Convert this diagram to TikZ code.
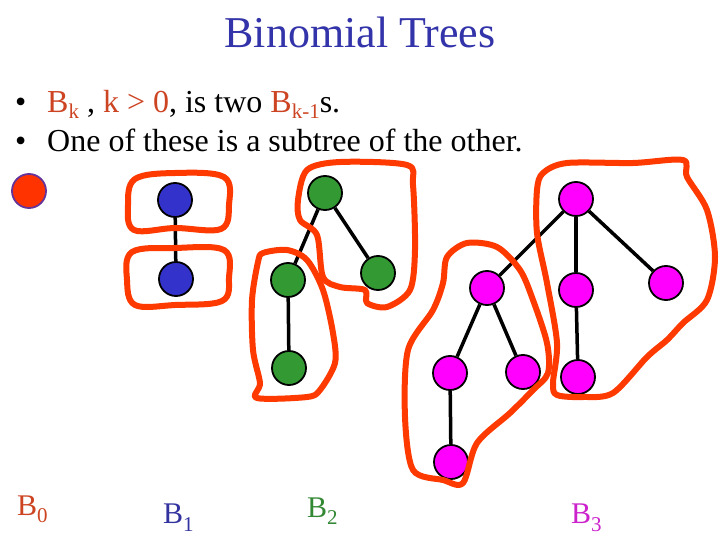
\documentclass[tikz,border=0pt]{standalone}
\usepackage{fontspec}
\setmainfont{Liberation Serif}
\definecolor{titleblue}{RGB}{51,51,170}
\definecolor{txtred}{RGB}{205,68,34}
\definecolor{lblblue}{RGB}{51,51,160}
\definecolor{lblgreen}{RGB}{51,136,51}
\definecolor{lblmag}{RGB}{204,34,204}
\definecolor{nred}{RGB}{255,51,0}
\definecolor{npurple}{RGB}{102,51,153}
\definecolor{nblue}{RGB}{51,51,204}
\definecolor{ngreen}{RGB}{51,153,51}
\definecolor{nmag}{RGB}{255,0,255}
\definecolor{loopred}{RGB}{255,58,0}
\newcommand\mysub[2]{\raisebox{-#1pt}{\fontsize{21}{21}\selectfont #2}}
\begin{document}
\begin{tikzpicture}[x=1pt,y=-1pt,
  vtx/.style={circle,draw=black,line width=1.8pt,minimum size=34pt,inner sep=0pt},
  edge/.style={line width=3.5pt,black},
  loopline/.style={loopred,line width=6pt,line join=round},
  txt/.style={inner sep=0pt,anchor=base west}]
\useasboundingbox (0,0) rectangle (720,540);
\fill[white] (0,0) rectangle (720,540);
% title
\node[inner sep=0pt,anchor=base,text=titleblue,font=\fontsize{44}{44}\selectfont] (title) at (360,48) {Binomial Trees};
% bullets
\node[txt,font=\fontsize{32}{38}\selectfont] (b1) at (15,113) {\textbullet};
\node[txt,font=\fontsize{32}{38}\selectfont] (l1) at (47,113) {\textcolor{txtred}{B\mysub{6}{k}} , \textcolor{txtred}{k > 0}, is two \textcolor{txtred}{B\mysub{6}{k-1}}s.};
\node[txt,font=\fontsize{32}{38}\selectfont] (b2) at (15,152) {\textbullet};
\node[txt,font=\fontsize{32}{38}\selectfont] (l2) at (47,152) {One of these is a subtree of the other.};
% B0
\node[vtx,fill=nred,draw=npurple] (a0) at (29,191) {};
% B1
\node[vtx,fill=nblue] (c1) at (175,200) {};
\node[vtx,fill=nblue] (c2) at (176,279) {};
% B2
\node[vtx,fill=ngreen] (g1) at (325,193) {};
\node[vtx,fill=ngreen] (g2) at (288,280) {};
\node[vtx,fill=ngreen] (g3) at (378,273) {};
\node[vtx,fill=ngreen] (g4) at (289,368) {};
% B3
\node[vtx,fill=nmag] (m1) at (576,199) {};
\node[vtx,fill=nmag] (m2) at (487,288) {};
\node[vtx,fill=nmag] (m3) at (576,290) {};
\node[vtx,fill=nmag] (m4) at (666,283) {};
\node[vtx,fill=nmag] (m5) at (450,373) {};
\node[vtx,fill=nmag] (m6) at (523,372) {};
\node[vtx,fill=nmag] (m7) at (578,377) {};
\node[vtx,fill=nmag] (m8) at (451,462) {};
% edges
\begin{scope}[on background layer/.style={}]
\end{scope}
\draw[edge] (c1) -- (c2);
\draw[edge] (g1) -- (g2);
\draw[edge] (g1) -- (g3);
\draw[edge] (g2) -- (g4);
\draw[edge] (m1) -- (m2);
\draw[edge] (m1) -- (m3);
\draw[edge] (m1) -- (m4);
\draw[edge] (m2) -- (m5);
\draw[edge] (m2) -- (m6);
\draw[edge] (m3) -- (m7);
\draw[edge] (m5) -- (m8);
% loops
\draw[loopline] plot[smooth cycle,tension=0.6] coordinates {(135,179) (175,173) (224,177) (229,205) (221,229) (175,228) (134,230) (128,205)};
\draw[loopline] plot[smooth cycle,tension=0.6] coordinates {(132,252) (175,248) (224,250) (229,278) (222,301) (175,305) (135,305) (127,280)};
\draw[loopline] plot[smooth cycle,tension=0.5] coordinates {(307,170) (340,162) (407,165) (413,185) (415,250) (410,290) (387,307) (367,303) (365,290) (340,287) (323,277) (317,235) (300,220) (298,200)};
\draw[loopline] plot[smooth cycle,tension=0.5] coordinates {(263,253) (287,250) (307,260) (323,290) (333,333) (335,363) (320,390) (307,397) (257,398) (260,383) (253,350) (252,300) (258,262)};
\draw[loopline] plot[smooth cycle,tension=0.5] coordinates {(467,243) (497,247) (520,270) (533,300) (547,343) (548,373) (533,390) (510,413) (477,443) (463,483) (443,480) (413,470) (405,417) (408,350) (433,310) (443,283) (447,257)};
\draw[loopline] plot[smooth cycle,tension=0.5] coordinates {(543,173) (567,163) (633,163) (683,160) (687,177) (707,210) (715,257) (707,300) (683,323) (667,340) (647,357) (613,393) (583,397) (557,395) (553,383) (557,343) (547,283) (537,233) (537,190)};
% labels
\node[txt,text=txtred,font=\fontsize{30}{30}\selectfont] (L0) at (17,515) {B\mysub{7}{0}};
\node[txt,text=lblblue,font=\fontsize{30}{30}\selectfont] (L1) at (163,523) {B\mysub{8}{1}};
\node[txt,text=lblgreen,font=\fontsize{30}{30}\selectfont] (L2) at (307,517) {B\mysub{7}{2}};
\node[txt,text=lblmag,font=\fontsize{30}{30}\selectfont] (L3) at (571,523) {B\mysub{8}{3}};
\end{tikzpicture}
\end{document}
